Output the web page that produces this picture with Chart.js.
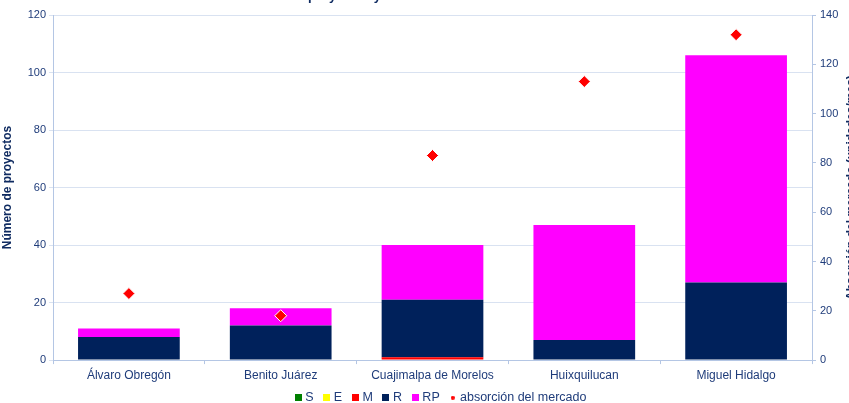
<!DOCTYPE html>
<html>
<head>
<meta charset="utf-8">
<script src="https://cdn.jsdelivr.net/npm/chart.js@4/dist/chart.umd.min.js"></script>
<style>
  html, body { margin: 0; padding: 0; background: #fff; }
  #wrap { width: 849px; height: 403px; }
</style>
</head>
<body>
<div id="wrap"><canvas id="grafico"></canvas></div>
<script>
const delegaciones = ['Álvaro Obregón', 'Benito Juárez', 'Cuajimalpa de Morelos', 'Huixquilucan', 'Miguel Hidalgo']
const proyectosS = [0, 0, 0, 0, 0]
const proyectosE = [0, 0, 0, 0, 0]
const proyectosM = [0, 0, 1, 0, 0]
const proyectosR = [8, 12, 20, 7, 27]
const proyectosRP = [3, 6, 19, 40, 79]
const absorcion = [27, 18, 83, 113, 132]

const azulTexto = '#1F3C7A'
const azulTitulo = '#0F2B61'
const lineaEje = '#B4C6E4'
const lineaGrid = '#D9E2F1'
const fuente = 'Liberation Sans, Arial, sans-serif'

// cuadritos de la leyenda
function marcador(color, tam, redondo) {
    const c = document.createElement('canvas')
    c.width = tam; c.height = tam
    const ctx = c.getContext('2d')
    ctx.fillStyle = color
    if (redondo) {
        ctx.beginPath()
        ctx.arc(tam / 2, tam / 2, tam / 2, 0, Math.PI * 2)
        ctx.fill()
    } else {
        ctx.fillRect(0, 0, tam, tam)
    }
    return c
}

// titulos que quedan recortados en el borde + leyenda acomodada
const titulosCortados = {
    id: 'titulosCortados',
    afterLayout(chart) {
        const lg = chart.legend
        if (!lg || !lg.lineWidths) return
        const inicio = (lg.left + lg.right - lg.lineWidths[0]) / 2
        const d = 291 - inicio
        lg.left += d
        lg.right += d
        lg.top -= 7
        lg.bottom -= 7
    },
    afterDraw(chart) {
        const ctx = chart.ctx
        ctx.save()
        ctx.fillStyle = azulTitulo
        ctx.font = 'bold 13px ' + fuente
        ctx.textBaseline = 'alphabetic'
        ctx.textAlign = 'left'
        const antes = ctx.measureText('Número de ').width
        ctx.fillText('Número de proyectos y absorción del mercado', 308 - antes, -0.5)

        ctx.translate(855, chart.chartArea.top + (chart.chartArea.bottom - chart.chartArea.top) / 2)
        ctx.rotate(-Math.PI / 2)
        ctx.textAlign = 'center'
        ctx.font = 'bold 12px ' + fuente
        ctx.fillText('Absorción del mercado (unidades/mes)', 0, 0)
        ctx.restore()
    }
}

const coloresBarras = ['#008000', '#FFFF00', '#FF0000', '#00215B', '#FF00FF']

new Chart(document.getElementById('grafico'), {
    type: 'bar',
    data: {
        labels: delegaciones,
        datasets: [
            { label: 'S', data: proyectosS, backgroundColor: coloresBarras[0], order: 1 },
            { label: 'E', data: proyectosE, backgroundColor: coloresBarras[1], order: 1 },
            { label: 'M', data: proyectosM, backgroundColor: coloresBarras[2], order: 1 },
            { label: 'R', data: proyectosR, backgroundColor: coloresBarras[3], order: 1 },
            { label: 'RP', data: proyectosRP, backgroundColor: coloresBarras[4], order: 1 },
            {
                label: 'absorción del mercado',
                type: 'line',
                data: absorcion,
                yAxisID: 'y2',
                showLine: false,
                pointStyle: 'rectRot',
                pointRadius: 6,
                pointBackgroundColor: '#FF0000',
                pointBorderColor: '#FFFFFF',
                pointBorderWidth: 1,
                order: 0
            }
        ]
    },
    options: {
        responsive: true,
        maintainAspectRatio: false,
        animation: false,
        layout: { padding: { top: 15, left: 0, right: 0, bottom: -18 } },
        datasets: { bar: { categoryPercentage: 0.67, barPercentage: 1, borderWidth: 0 } },
        plugins: {
            tooltip: { enabled: false },
            legend: {
                position: 'bottom',
                padding: 0,
                labels: {
                    usePointStyle: true,
                    pointStyleWidth: 2,
                    boxWidth: 8,
                    boxHeight: 8,
                    padding: 12,
                    color: azulTexto,
                    font: { family: fuente, size: 12.5 },
                    generateLabels(chart) {
                        return chart.data.datasets.map((d, i) => ({
                            text: d.label,
                            fillStyle: '#FF0000',
                            strokeStyle: 'transparent',
                            lineWidth: 0,
                            fontColor: azulTexto,
                            pointStyle: i < 5 ? marcador(coloresBarras[i], 7, false) : marcador('#FF0000', 4, true),
                            datasetIndex: i
                        }))
                    }
                }
            }
        },
        scales: {
            x: {
                stacked: true,
                grid: { display: true, drawOnChartArea: false, offset: true, tickLength: 4, color: lineaEje },
                border: { color: lineaEje },
                ticks: { color: azulTexto, font: { family: fuente, size: 12 }, padding: 4 }
            },
            y: {
                stacked: true,
                min: 0,
                max: 120,
                ticks: { stepSize: 20, color: azulTexto, font: { family: fuente, size: 11 }, padding: 3 },
                grid: { color: lineaGrid, tickLength: 4 },
                border: { color: lineaEje },
                title: {
                    display: true,
                    text: 'Número de proyectos',
                    color: azulTitulo,
                    font: { family: fuente, size: 12, weight: 'bold' },
                    padding: 0
                },
                afterFit(scale) { scale.width = 53 }
            },
            y2: {
                position: 'right',
                min: 0,
                max: 140,
                ticks: { stepSize: 20, color: azulTexto, font: { family: fuente, size: 11 }, padding: 4 },
                grid: { drawOnChartArea: false, color: lineaEje, tickLength: 4 },
                border: { color: lineaEje },
                afterFit(scale) { scale.width = 37 }
            }
        }
    },
    plugins: [titulosCortados]
})
</script>
</body>
</html>
